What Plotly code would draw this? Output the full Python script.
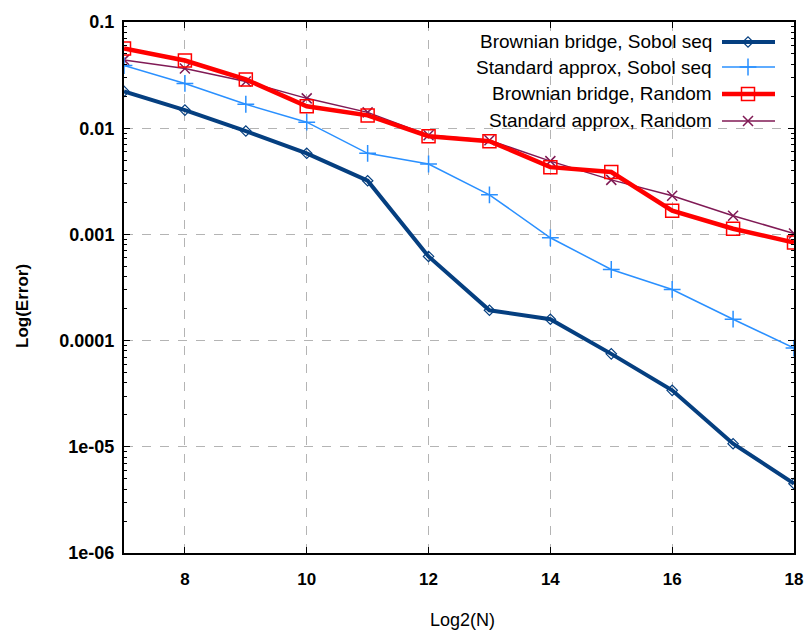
import plotly.graph_objects as go

log2n = [7, 8, 9, 10, 11, 12, 13, 14, 15, 16, 17, 18]

bb_sobol = [0.0222, 0.0148, 0.0094, 0.0058, 0.0032, 0.00062, 0.000193, 0.000159, 7.5e-5, 3.4e-5, 1.07e-5, 4.5e-6]
std_sobol = [0.0389, 0.0264, 0.0168, 0.0114, 0.0058, 0.0046, 0.00236, 0.00093, 0.000467, 0.000303, 0.000159, 8.5e-5]
bb_random = [0.0562, 0.0434, 0.0288, 0.0161, 0.0132, 0.0084, 0.00755, 0.0043, 0.00387, 0.00167, 0.00113, 0.00084]
std_random = [0.0440, 0.0365, 0.0275, 0.0191, 0.0141, 0.0086, 0.0077, 0.0049, 0.00326, 0.00231, 0.0015, 0.00102]

names = ["Brownian bridge, Sobol seq", "Standard approx, Sobol seq",
         "Brownian bridge, Random", "Standard approx, Random"]
series = [bb_sobol, std_sobol, bb_random, std_random]
colors = ["#053f80", "#2a90ff", "#ff0000", "#801a55"]
widths = [4, 1.5, 4.5, 1.5]
symbols = ["diamond-open", "cross-thin-open", "square-open", "x-thin-open"]
msizes = [8, 12, 13, 10]
mlw = [1.2, 1.5, 1.5, 1.5]

ytick_vals = [0.1, 0.01, 0.001, 0.0001, 1e-5, 1e-6]
ytick_text = ["0.1", "0.01", "0.001", "0.0001", "1e-05", "1e-06"]
xtick_vals = [8, 10, 12, 14, 16, 18]

FONT = "Liberation Sans, Arial"

fig = go.Figure()
for i in [3, 2, 1, 0]:
    fig.add_trace(go.Scatter(
        x=log2n, y=series[i], mode="lines+markers", name=names[i],
        line=dict(color=colors[i], width=widths[i]),
        marker=dict(symbol=symbols[i], size=msizes[i], color=colors[i],
                    line=dict(color=colors[i], width=mlw[i])),
        showlegend=False))

# manual legend (text right-aligned, sample on the right), on overlay axes in [0,1]
L, R, T, B = 124, 794, 22, 553
def px(x):
    return (x - L) / (R - L)
def py(y):
    return (B - y) / (B - T)
rows = [42, 67, 94, 121]
for i, ry in enumerate(rows):
    yy = py(ry)
    fig.add_trace(go.Scatter(
        x=[px(722), px(775)], y=[yy, yy], mode="lines",
        line=dict(color=colors[i], width=widths[i]),
        xaxis="x2", yaxis="y2", showlegend=False, hoverinfo="skip"))
    fig.add_trace(go.Scatter(
        x=[px(748)], y=[yy], mode="markers",
        marker=dict(symbol=symbols[i], size=msizes[i], color=colors[i],
                    line=dict(color=colors[i], width=mlw[i])),
        xaxis="x2", yaxis="y2", showlegend=False, hoverinfo="skip"))
    fig.add_annotation(text=names[i], xref="paper", yref="paper",
                       x=px(714), y=yy, xanchor="right", yanchor="middle",
                       showarrow=False,
                       font=dict(family=FONT, size=19, color="black"))

# axis titles as annotations (placed like the original)
fig.add_annotation(text="Log(Error)", xref="paper", yref="paper",
                   x=px(22), y=py(306), xanchor="center", yanchor="middle",
                   textangle=-90, showarrow=False,
                   font=dict(family=FONT, size=17, weight="bold", color="black"))
fig.add_annotation(text="Log2(N)", xref="paper", yref="paper",
                   x=px(462), y=py(620), xanchor="center", yanchor="middle",
                   showarrow=False,
                   font=dict(family=FONT, size=18, color="black"))

fig.update_layout(
    width=805, height=637,
    margin=dict(l=L, r=805 - R, t=T, b=637 - B),
    paper_bgcolor="white", plot_bgcolor="white",
    font=dict(family=FONT, color="black"),
    xaxis=dict(range=[7, 18], tickvals=xtick_vals, ticktext=[str(v) for v in xtick_vals],
               showgrid=True, gridcolor="#b4b4b4", griddash="dash", gridwidth=1,
               showline=True, linecolor="black", linewidth=2, mirror="ticks",
               ticks="inside", ticklen=6, tickcolor="black", zeroline=False,
               automargin=False, ticklabelstandoff=10, ticklabeloverflow="allow",
               tickfont=dict(family=FONT, size=17, weight="bold")),
    yaxis=dict(type="log", range=[-6, -1], tickvals=ytick_vals, ticktext=ytick_text,
               showgrid=True, gridcolor="#b4b4b4", griddash="dash", gridwidth=1,
               showline=True, linecolor="black", linewidth=2, mirror="ticks",
               ticks="inside", ticklen=6, tickcolor="black", zeroline=False,
               automargin=False, ticklabelstandoff=4, ticklabeloverflow="allow",
               minor=dict(ticks="inside", ticklen=3, tickcolor="black",
                          dtick="D1", showgrid=False),
               tickfont=dict(family=FONT, size=18, weight="bold")),
    xaxis2=dict(overlaying="x", range=[0, 1], visible=False),
    yaxis2=dict(overlaying="y", range=[0, 1], visible=False),
)

fig.write_html("out.html")
